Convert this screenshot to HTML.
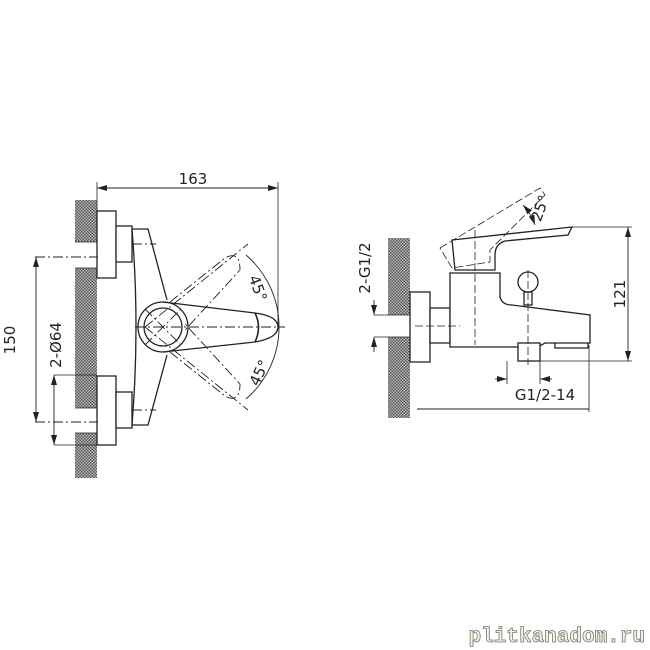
<!DOCTYPE html>
<html><head><style>
html,body{margin:0;padding:0;background:#fff;}
svg{display:block;}
text{font-family:"DejaVu Sans","Liberation Sans",sans-serif;fill:#222;}
</style></head><body>
<svg width="650" height="650" viewBox="0 0 650 650" xmlns="http://www.w3.org/2000/svg">
<defs>
<pattern id="hatch" width="3" height="3" patternUnits="userSpaceOnUse">
<rect width="3" height="3" fill="#bbb"/>
<rect width="1.5" height="1.5" fill="#555"/>
<rect x="1.5" y="1.5" width="1.5" height="1.5" fill="#555"/>
</pattern>
<marker id="ar" viewBox="0 0 10 6" refX="10" refY="3" markerWidth="10" markerHeight="6" orient="auto-start-reverse" markerUnits="userSpaceOnUse"><path d="M0,0 L10,3 L0,6z" fill="#222"/></marker>
</defs>
<g stroke="#222" stroke-width="1.3" fill="none">
<rect x="75" y="200" width="22" height="278" fill="url(#hatch)" stroke="none"/>
<rect x="75" y="242" width="22" height="26" fill="#fff" stroke="none"/>
<rect x="75" y="408" width="22" height="25" fill="#fff" stroke="none"/>
<line x1="75" y1="242" x2="97" y2="242" stroke-width="0.8"/><line x1="75" y1="268" x2="97" y2="268" stroke-width="0.8"/>
<line x1="75" y1="408" x2="97" y2="408" stroke-width="0.8"/><line x1="75" y1="433" x2="97" y2="433" stroke-width="0.8"/>
<rect x="97" y="211" width="19" height="67" fill="#fff"/>
<rect x="97" y="376" width="19" height="69" fill="#fff"/>
<rect x="116" y="226" width="16" height="36" fill="#fff"/>
<rect x="116" y="392" width="16" height="36" fill="#fff"/>
<path d="M132,229 L148,229 L167,300 M132,425 L148,425 L167,355" />
<path d="M132,229 Q140,327 132,425"/>
<circle cx="163" cy="327" r="25" fill="#fff"/>
<circle cx="163" cy="327" r="19"/>
<path d="M163,302 L255,313 Q278,316 278,327 Q278,338 255,342 L163,352"/>
<path d="M255,313 Q262,327 255,342" stroke-width="1.6"/>
<g stroke-dasharray="10,3,2,3" stroke-width="0.9">
<line x1="35" y1="257" x2="98" y2="257"/><line x1="35" y1="422" x2="98" y2="422"/>
<line x1="135" y1="327" x2="285" y2="327"/>
<line x1="145" y1="309" x2="181" y2="345"/><line x1="145" y1="345" x2="181" y2="309"/>
<line x1="145" y1="327" x2="248" y2="244"/><line x1="145" y1="327" x2="248" y2="410"/>
<path d="M170,302 L225,258 Q240,250 240,270 L185,330"/>
<path d="M170,352 L225,396 Q240,404 240,384 L185,324"/>
<path d="M246,255 A95,95 0 0 1 246,399" stroke-dasharray="none"/>
<line x1="132" y1="244" x2="156" y2="244"/><line x1="132" y1="410" x2="156" y2="410"/>
</g>
<line x1="97" y1="182" x2="97" y2="211" stroke-width="0.8"/>
<line x1="278" y1="182" x2="278" y2="327" stroke-width="0.8"/>
<line x1="97" y1="188" x2="278" y2="188" stroke-width="0.9" marker-start="url(#ar)" marker-end="url(#ar)"/>
<line x1="36" y1="257" x2="36" y2="422" stroke-width="0.9" marker-start="url(#ar)" marker-end="url(#ar)"/>
<line x1="54" y1="375" x2="97" y2="375" stroke-width="0.8"/><line x1="54" y1="445" x2="97" y2="445" stroke-width="0.8"/>
<line x1="54" y1="375" x2="54" y2="445" stroke-width="0.9" marker-start="url(#ar)" marker-end="url(#ar)"/>
<rect x="388" y="238" width="22" height="180" fill="url(#hatch)" stroke="none"/>
<rect x="388" y="315" width="22" height="22" fill="#fff" stroke="none"/>
<line x1="374" y1="315" x2="410" y2="315" stroke-width="0.8"/><line x1="374" y1="337" x2="410" y2="337" stroke-width="0.8"/>
<rect x="410" y="292" width="20" height="70" fill="#fff"/>
<rect x="430" y="308" width="20" height="35" fill="#fff"/>
<path d="M450,273 L500,273 L500,297 Q502,305 512,305 L590,315 L590,343 L545,343 L538,347 L450,347 Z" fill="#fff"/>
<rect x="518" y="343" width="22" height="18" fill="#fff"/>
<path d="M555,343 L555,348 L588,348 L588,343"/>
<path d="M452,240 L572,227 L568,235 L505,241 Q495,244 495,255 L495,270 L455,270 Z" fill="#fff"/>
<circle cx="528" cy="282" r="10" fill="#fff"/>
<rect x="524" y="292" width="8" height="13" fill="#fff"/>
<g stroke-dasharray="8,3" stroke-width="0.8">
<path d="M440,248 L540,188 L545,195 L490,250 L490,262 L452,268 Z"/>
<line x1="415" y1="326" x2="460" y2="326"/>
<line x1="475" y1="230" x2="475" y2="345"/>
<line x1="528" y1="270" x2="528" y2="365"/>
</g>
<path d="M523,205 A60,60 0 0 1 535,225" stroke-width="0.9" marker-start="url(#ar)" marker-end="url(#ar)"/>
<line x1="572" y1="227" x2="632" y2="227" stroke-width="0.8"/>
<line x1="540" y1="361" x2="632" y2="361" stroke-width="0.8"/>
<line x1="628" y1="227" x2="628" y2="361" stroke-width="0.9" marker-start="url(#ar)" marker-end="url(#ar)"/>
<line x1="374" y1="300" x2="374" y2="315" stroke-width="0.9" marker-end="url(#ar)"/>
<line x1="374" y1="352" x2="374" y2="337" stroke-width="0.9" marker-end="url(#ar)"/>
<line x1="507" y1="361" x2="507" y2="384" stroke-width="0.8"/><line x1="540" y1="361" x2="540" y2="384" stroke-width="0.8"/>
<line x1="495" y1="379" x2="507" y2="379" stroke-width="0.9" marker-end="url(#ar)"/>
<line x1="552" y1="379" x2="540" y2="379" stroke-width="0.9" marker-end="url(#ar)"/>
<line x1="417" y1="409" x2="589" y2="409" stroke-width="0.9"/>
<line x1="589" y1="345" x2="589" y2="412" stroke-width="0.8"/>
</g>
<g font-size="15">
<text x="193" y="184" text-anchor="middle">163</text>
<text transform="translate(15,340) rotate(-90)" text-anchor="middle">150</text>
<text transform="translate(61,345) rotate(-90)" text-anchor="middle">2-Ø64</text>
<text transform="translate(253,290) rotate(70)" text-anchor="middle">45°</text>
<text transform="translate(264,375) rotate(-65)" text-anchor="middle">45°</text>
<text transform="translate(370,268) rotate(-90)" text-anchor="middle">2-G1/2</text>
<text transform="translate(545,210) rotate(-70)" text-anchor="middle">25°</text>
<text transform="translate(625,294) rotate(-90)" text-anchor="middle">121</text>
<text x="545" y="400" text-anchor="middle">G1/2-14</text>
</g>
<text x="645" y="642" text-anchor="end" font-size="21" font-weight="bold" style="font-family:'Liberation Mono',monospace;fill:#f4f2dc;stroke:#777;stroke-width:0.8">plitkanadom.ru</text>
</svg>
</body></html>
